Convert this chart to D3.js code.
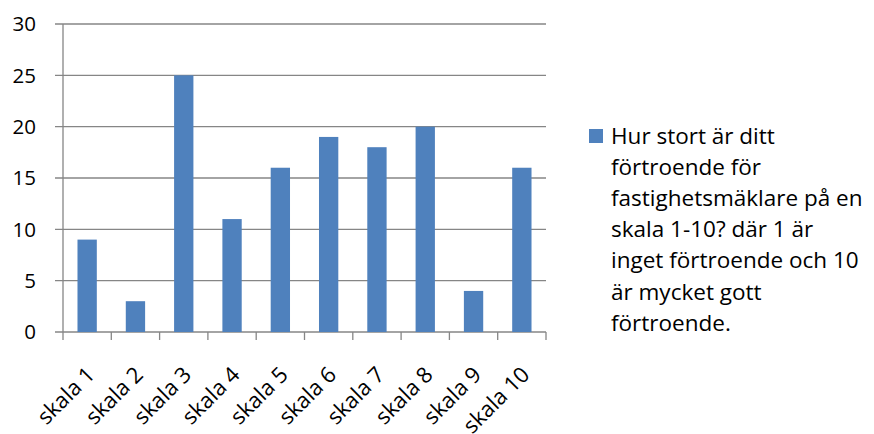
<!DOCTYPE html>
<html>
<head>
<meta charset="utf-8">
<script src="https://cdn.jsdelivr.net/npm/d3@7"></script>
<style>
  html, body { margin: 0; padding: 0; background: #fff; }
  svg text { font-family: "Open Sans", "DejaVu Sans", sans-serif; fill: #000; }
</style>
</head>
<body>
<svg id="chart" width="874" height="434"></svg>
<script>
// Responses per scale step
const categories = ["skala 1", "skala 2", "skala 3", "skala 4", "skala 5",
                    "skala 6", "skala 7", "skala 8", "skala 9", "skala 10"];
const values = [9, 3, 25, 11, 16, 19, 18, 20, 4, 16];
const yTicks = [0, 5, 10, 15, 20, 25, 30];
const legendLines = [
  "Hur stort är ditt",
  "förtroende för",
  "fastighetsmäklare på en",
  "skala 1-10? där 1 är",
  "inget förtroende och 10",
  "är mycket gott",
  "förtroende."
];

const svg = d3.select("#chart");
const plot = { left: 63, right: 546, top: 24, bottom: 332 };
const barColor = "#4F81BD";
const axisColor = "#868686";

const x = d3.scaleBand()
  .domain(categories)
  .range([plot.left, plot.right])
  .paddingInner(0.6)
  .paddingOuter(0.3);

const y = d3.scaleLinear()
  .domain([0, 30])
  .range([plot.bottom, plot.top]);

// horizontal gridlines with short tick stubs on the left
svg.append("g")
  .selectAll("line")
  .data(yTicks)
  .join("line")
  .attr("x1", plot.left - 8)
  .attr("x2", plot.right)
  .attr("y1", d => y(d))
  .attr("y2", d => y(d))
  .attr("stroke", axisColor)
  .attr("stroke-width", 1.3);

// y tick labels
svg.append("g")
  .selectAll("text")
  .data(yTicks)
  .join("text")
  .attr("x", 36)
  .attr("y", d => y(d))
  .attr("dy", "0.36em")
  .attr("text-anchor", "end")
  .style("font-size", "20.5px")
  .text(d => d);

// bars
svg.append("g")
  .selectAll("rect")
  .data(values)
  .join("rect")
  .attr("x", (d, i) => x(categories[i]))
  .attr("width", x.bandwidth())
  .attr("y", d => y(d))
  .attr("height", d => y(0) - y(d))
  .attr("fill", barColor);

// vertical axis line
svg.append("line")
  .attr("x1", plot.left).attr("x2", plot.left)
  .attr("y1", plot.top).attr("y2", plot.bottom)
  .attr("stroke", axisColor)
  .attr("stroke-width", 1.3);

// category boundary ticks below the baseline
const boundaries = d3.range(categories.length + 1)
  .map(i => plot.left + i * (plot.right - plot.left) / categories.length);
svg.append("g")
  .selectAll("line")
  .data(boundaries)
  .join("line")
  .attr("x1", d => d).attr("x2", d => d)
  .attr("y1", plot.bottom).attr("y2", plot.bottom + 8)
  .attr("stroke", axisColor)
  .attr("stroke-width", 1.3);

// rotated category labels
svg.append("g")
  .selectAll("text")
  .data(categories)
  .join("text")
  .attr("transform", d => `translate(${x(d) + x.bandwidth() / 2 + 9},${plot.bottom + 44}) rotate(-45)`)
  .attr("text-anchor", "end")
  .style("font-size", "22px")
  .text(d => d);

// legend
const legend = svg.append("g");
legend.append("rect")
  .attr("x", 589).attr("y", 129)
  .attr("width", 14).attr("height", 14)
  .attr("fill", barColor);
legend.selectAll("text")
  .data(legendLines)
  .join("text")
  .attr("x", 611)
  .attr("y", (d, i) => 144 + i * 31.1)
  .style("font-size", "22.5px")
  .text(d => d);
</script>
</body>
</html>
